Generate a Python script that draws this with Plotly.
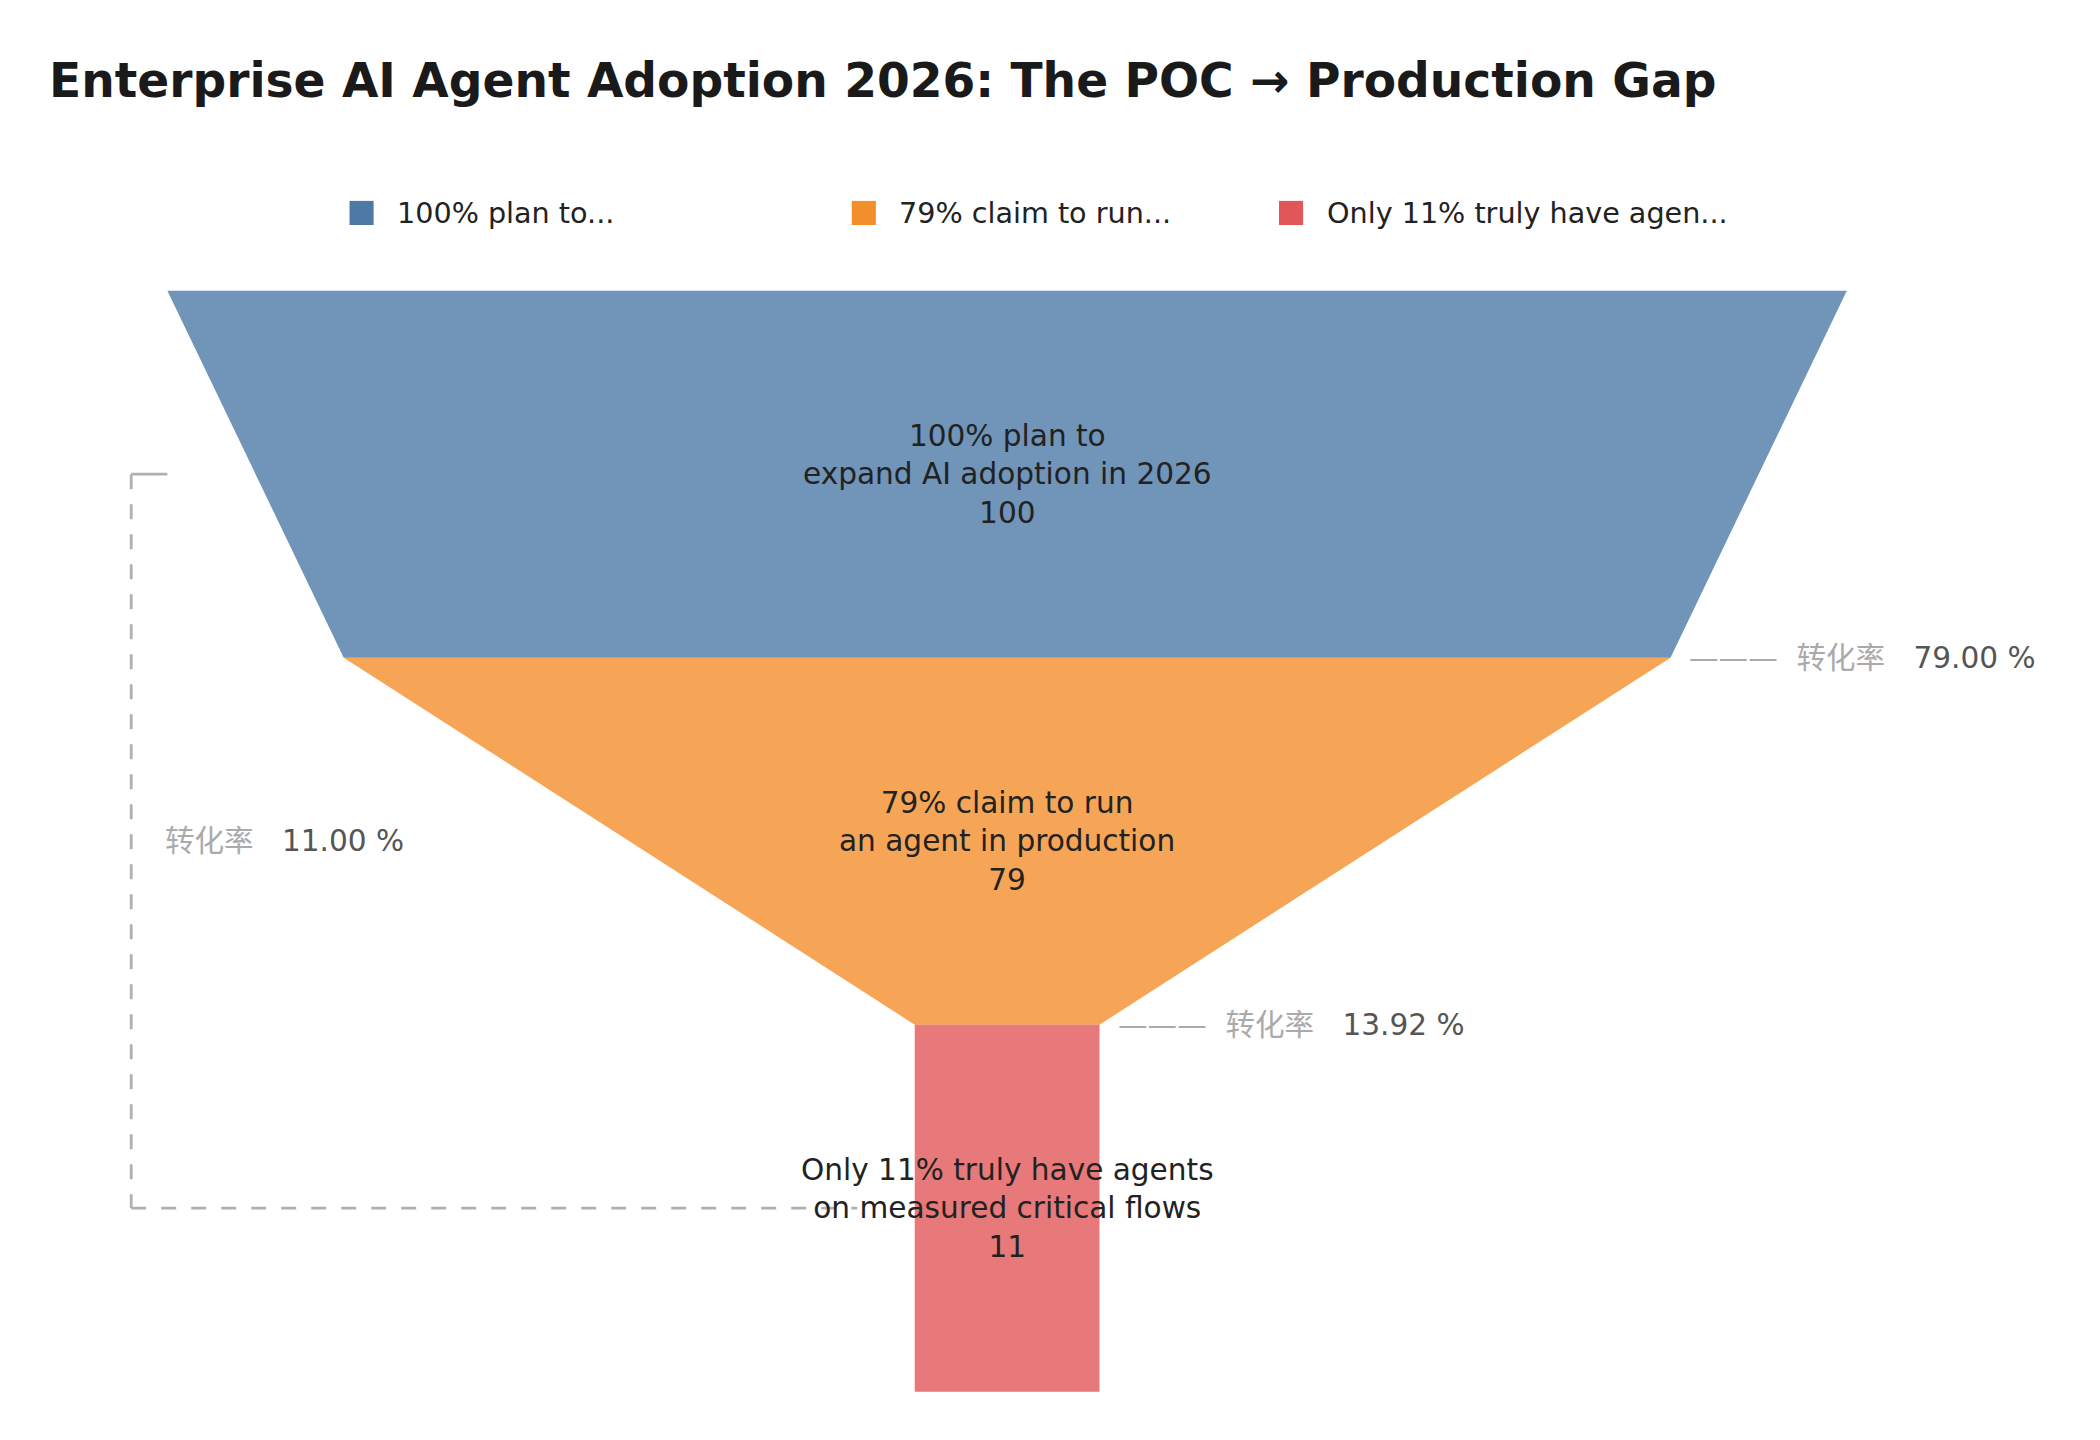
import plotly.graph_objects as go

stages = ["100% plan to<br>expand AI adoption in 2026", "79% claim to run<br>an agent in production", "Only 11% truly have agents<br>on measured critical flows"]
legend_names = ["100% plan to...", "79% claim to run...", "Only 11% truly have agen..."]
values = [100, 79, 11]
fill_colors = ["rgba(78,121,167,0.8)", "rgba(242,142,43,0.8)", "rgba(225,87,89,0.8)"]
legend_colors = ["#4e79a7", "#f28e2b", "#e15759"]

W, H = 1568, 1075
S = 2100 / W * 1.38
OFF = 6
CX, TOP, STEP, FULLW = 752, 217, 274, 1254
FONT = "DejaVu Sans, Noto Sans CJK SC"

fig = go.Figure()
shapes, ann = [], []
vmax = max(values)
for i, v in enumerate(values):
    nv = values[i + 1] if i + 1 < len(values) else v
    wt, wb = v / vmax * FULLW, nv / vmax * FULLW
    yt, yb = TOP + i * STEP, TOP + (i + 1) * STEP
    fig.add_trace(go.Scatter(x=[CX - wt/2, CX + wt/2, CX + wb/2, CX - wb/2, CX - wt/2],
                             y=[yt, yt, yb, yb, yt], fill="toself", fillcolor=fill_colors[i],
                             mode="lines", line=dict(width=0), hoverinfo="skip", showlegend=False))
    ann.append(dict(x=CX, y=(yt + yb) / 2, text=f"{stages[i]}<br>{v}", showarrow=False,
                    font=dict(size=16*S, color="#222", family=FONT)))
    if i + 1 < len(values):
        conv = nv / v * 100
        ax = CX + wb/2 + 12
        ann.append(dict(x=ax, y=yb, xanchor="left", showarrow=False,
                        text=f"<span style='color:#aaa'>———  转化率</span>   <span style='color:#555'>{conv:.2f} %</span>",
                        font=dict(size=16*S, family=FONT)))

overall = values[-1] / values[0] * 100
grey = "#b0b0b0"
shapes += [
    dict(type="line", x0=125, x1=98, y0=354, y1=354, line=dict(color=grey, width=1.5*S)),
    dict(type="line", x0=98, x1=98, y0=354, y1=902, line=dict(color=grey, width=1.5*S, dash="longdash")),
    dict(type="line", x0=98, x1=640, y0=902, y1=902, line=dict(color=grey, width=1.5*S, dash="longdash")),
]
ann.append(dict(x=122, y=628, xanchor="left", showarrow=False,
                text=f"<span style='color:#aaa'>转化率</span>   <span style='color:#555'>{overall:.2f} %</span>",
                font=dict(size=16*S, family=FONT)))

for name, col, lx in zip(legend_names, legend_colors, [261, 636, 955]):
    shapes.append(dict(type="rect", x0=lx, x1=lx + 18, y0=150, y1=168, fillcolor=col, line=dict(width=0)))
    ann.append(dict(x=lx + 34, y=159, xanchor="left", showarrow=False, text=name,
                    font=dict(size=15.5*S, color="#222", family=FONT)))

ann.append(dict(x=35, y=60, xanchor="left", showarrow=False,
                text="<b>Enterprise AI Agent Adoption 2026: The POC → Production Gap</b>",
                font=dict(size=25.5*S, color="#1a1a1a", family=FONT)))

fig.update_layout(width=2100, height=1440, margin=dict(l=0, r=0, t=0, b=0),
                  plot_bgcolor="white", paper_bgcolor="white", shapes=shapes, annotations=ann,
                  xaxis=dict(range=[OFF, W + OFF], visible=False, fixedrange=True),
                  yaxis=dict(range=[H + OFF, OFF], visible=False, fixedrange=True))
fig.write_html("out.html")
